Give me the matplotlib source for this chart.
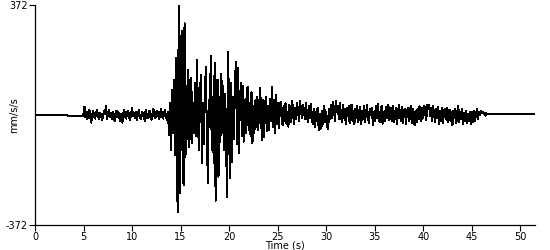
import numpy as np
import matplotlib
matplotlib.use("Agg")
import matplotlib.pyplot as plt

# sample interval (s)
dt = 0.1

# pre-event: flat, then tiny offset (0.0 - 4.9 s)
pre_flat = [0] * 34
pre_step = [-3] * 16

# background noise 5.0 - 13.7 s
noise = [5, 28, -8, 12, -15, 6, 18, -10, -26, 4,
         15, -6, -12, 10, 18, -4, -14, 8, 2, -18,
         -8, 14, 4, 30, -12, -2, 16, -6, 8, -15,
         12, -4, -20, 6, 14, -8, 10, -12, -22, 5,
         -26, 8, 18, -5, -12, 10, 15, -8, -16, 3,
         24, -4, 6, -10, 12, -18, 4, 16, -6, -14,
         10, -4, 8, -20, 18, -2, -12, 6, 14, -8,
         -16, 4, 20, -6, -10, 12, 15, -4, -14, 8,
         22, -6, -12, 10, 16, -8, -18, 12]

# strong motion 13.8 - 25.0 s
strong = [-68, 40,
          -118, 85, -60, 118, -135, 193, -176, -328, 368, -264,
          150, 284, -159, -237, 311, -142, 100, -80, 152, -110,
          60, 125, -95, 40, -60, 110, -70, 186, -50, -120,
          90, 135, -162, 40, -100, 80, 162, -60, -230, 50,
          -40, 199, -120, 60, -162, 176, -290, 80, 120, -210,
          60, -90, 140, -60, 100, -120, 70, -142, -277, 213,
          -60, -213, 110, -159, 60, -80, 120, 179, -100, 159,
          -128, 40, 108, -70, 98, -90, 50, -60, 80, 95,
          -50, 40, -70, 78, -95, 30, -60, 50, -40, 60,
          -50, 40, 92, -30, -85, 50, -73, 40, 60, -56,
          30, -51, 55, -20, 96, -40, 50, -62, 68, -30,
          40]

# coda 25.1 - 46.2 s
coda = [-44, 20, 45, -10, -35, 30, -20, 40, -30,
        10, -40, 35, 5, -25, 47, -5, -30, 25, -15,
        40, 10, -20, 48, 15, -10, 35, 20, -15, 42,
        5, -25, 30, -10, 38, 0, -30, 20, -40, 10,
        -20, 25, -35, -51, 5, -45, 15, -30, 30, -25,
        10, -40, -48, 20, -15, 35, -10, 45, 15, -20,
        48, 10, 30, -15, 40, 5, -25, 35, -10, 20,
        -30, 25, -5, 30, -28, 10, 35, -20, 15, -30,
        20, -10, 30, -25, 5, 28, -32, 15, -15, 30,
        -25, 10, 33, -10, -28, 20, 5, 25, -35, 10,
        -20, 30, -10, 38, 0, -25, 20, 30, -30, 10,
        -22, 15, 28, -10, 35, -18, 5, 25, -20, 30,
        -25, 10, 25, -30, 15, 35, -5, -20, 28, -26,
        10, 22, -30, 5, 25, -22, 15, 30, -28, 20,
        -10, -34, 15, -25, 20, -15, 30, 5, -20, 25,
        -10, 30, 15, -18, 35, 20, 34, -5, 25, -20,
        30, 5, -25, 22, -10, 28, -30, 15, -20, 25,
        -28, 10, 20, -15, 25, -25, 5, 18, -20, 12,
        -35, 15, -10, 20, -28, 5, 30, -25, 10, -15,
        22, -32, 8, -20, 15, -28, 5, -22, 12, -30,
        10, -25, 15, -20, -5, 20, -15, 12, 0, 15,
        8, 10, 5]

# tail 46.3 - 51.4 s
tail = [8, -2, 6] + [3] * 12 + [2] * 37

accel = np.array(pre_flat + pre_step + noise + strong + coda + tail, dtype=float)
time = np.arange(len(accel)) * dt

x_ticks = [0, 5, 10, 15, 20, 25, 30, 35, 40, 45, 50]
y_ticks = [-372, 372]

fig = plt.figure(figsize=(5.5, 2.5), dpi=100)
ax = fig.add_axes([35 / 550, 25 / 250, 500 / 550, 220 / 250])
ax.plot(time, accel, color="black", lw=0.7, antialiased=False)
ax.set_xlim(0, 51.5)
ax.set_ylim(-372, 372)
ax.set_xticks(x_ticks)
ax.set_yticks(y_ticks)
ax.set_yticklabels([str(v) for v in y_ticks])
for s in ["top", "right"]:
    ax.spines[s].set_visible(False)
for s in ["left", "bottom"]:
    ax.spines[s].set_linewidth(0.9)
ax.tick_params(axis="both", labelsize=7, length=4, width=0.8, pad=1, direction="out")
ax.set_xlabel("Time (s)", fontsize=7, labelpad=-1)
ax.set_ylabel("mm/s/s", fontsize=7)
ax.yaxis.set_label_coords(-16 / 500, 0.5)
fig.savefig("out.png", dpi=100)
